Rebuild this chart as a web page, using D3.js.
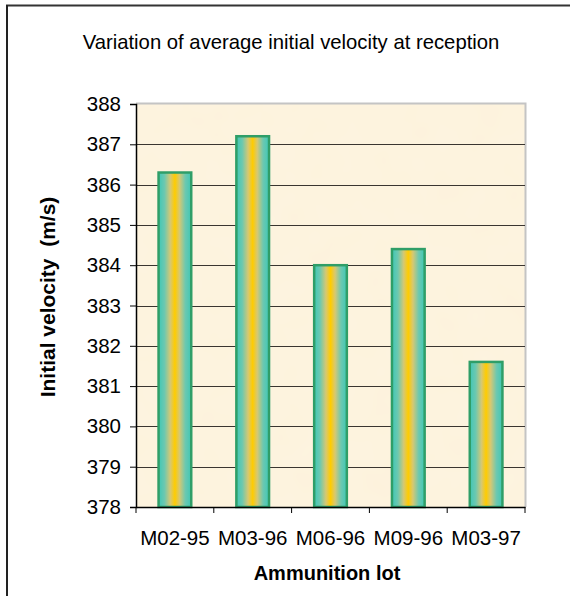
<!DOCTYPE html>
<html>
<head>
<meta charset="utf-8">
<script src="https://cdn.jsdelivr.net/npm/d3@7"></script>
<style>
  html, body { margin: 0; padding: 0; background: #fff; }
  svg { display: block; font-family: "Liberation Sans", Arial, sans-serif; }
</style>
</head>
<body>
<svg id="chart" width="570" height="596"></svg>
<script>
const categories = ["M02-95", "M03-96", "M06-96", "M09-96", "M03-97"];
const velocities = [386.3, 387.2, 384.0, 384.4, 381.6];
const yTicks = [378, 379, 380, 381, 382, 383, 384, 385, 386, 387, 388];
const titleText = "Variation of average initial velocity at reception";
const xLabel = "Ammunition lot";
const yLabel = "Initial velocity  (m/s)";

const svg = d3.select("#chart");
const plot = { left: 136, right: 525, top: 104, bottom: 507 };

const x = d3.scaleBand().domain(categories).range([plot.left, plot.right]).padding(0);
const y = d3.scaleLinear().domain([378, 388]).range([plot.bottom, plot.top]);

const defs = svg.append("defs");
const grad = defs.append("linearGradient").attr("id", "barGrad")
  .attr("x1", "0%").attr("x2", "100%").attr("y1", "0%").attr("y2", "0%");
[[0, "#3fc8b6"], [0.18, "#6cc8b0"], [0.36, "#d6c872"], [0.5, "#ffcc00"], [0.64, "#d6c872"], [0.82, "#6cc8b0"], [1, "#3fc8b6"]]
  .forEach(([o, c]) => grad.append("stop").attr("offset", o).attr("stop-color", c));

const filt = defs.append("filter").attr("id", "paper").attr("x", 0).attr("y", 0).attr("width", 1).attr("height", 1);
filt.append("feTurbulence").attr("type", "fractalNoise").attr("baseFrequency", 0.03).attr("numOctaves", 2).attr("seed", 3).attr("result", "noise");
filt.append("feColorMatrix").attr("in", "noise").attr("type", "matrix")
  .attr("values", "0 0 0 0 0.99  0 0 0 0 0.94  0 0 0 0 0.82  0 0 0 0.3 0").attr("result", "tint");
filt.append("feComposite").attr("in", "tint").attr("in2", "SourceGraphic").attr("operator", "over");

// outer frame (top and left visible)
svg.append("line").attr("x1", 6).attr("x2", 570).attr("y1", 5.5).attr("y2", 5.5).attr("stroke", "#333").attr("stroke-width", 2);
svg.append("line").attr("x1", 7).attr("x2", 7).attr("y1", 5).attr("y2", 596).attr("stroke", "#222").attr("stroke-width", 2);

// plot background
svg.append("rect").attr("x", plot.left).attr("y", plot.top)
  .attr("width", plot.right - plot.left).attr("height", plot.bottom - plot.top)
  .attr("fill", "#fdf2dc").attr("filter", "url(#paper)");

// grey border top/right
svg.append("path")
  .attr("d", `M${plot.left},${plot.top - 0.5}H${plot.right + 0.5}V${plot.bottom}`)
  .attr("fill", "none").attr("stroke", "#c4c4c4").attr("stroke-width", 2);

// gridlines
svg.append("g").selectAll("line").data(yTicks.slice(1, -1)).join("line")
  .attr("x1", plot.left).attr("x2", plot.right)
  .attr("y1", d => Math.round(y(d)) + 0.5).attr("y2", d => Math.round(y(d)) + 0.5)
  .attr("stroke", "#3a3530").attr("stroke-width", 1);

// bars
const barW = x.bandwidth() * 0.42;
svg.append("g").selectAll("rect").data(categories).join("rect")
  .attr("x", d => x(d) + (x.bandwidth() - barW) / 2)
  .attr("y", (d, i) => y(velocities[i]))
  .attr("width", barW)
  .attr("height", (d, i) => y(378) - y(velocities[i]))
  .attr("fill", "url(#barGrad)")
  .attr("stroke", "#2f9e68").attr("stroke-width", 2.5);

// y axis
const yAxis = svg.append("g").attr("transform", `translate(${plot.left},0)`)
  .call(d3.axisLeft(y).tickValues(yTicks).tickSize(6).tickPadding(9).tickFormat(d3.format("d")));
yAxis.select(".domain").attr("stroke", "#000").attr("stroke-width", 1.5);
yAxis.selectAll(".tick line").attr("stroke", "#000");
yAxis.selectAll("text").attr("font-size", 20.5).attr("fill", "#000")
  .attr("font-family", "'Liberation Sans', Arial, sans-serif");

// x axis labels
const xAxis = svg.append("g").attr("transform", `translate(0,${plot.bottom})`)
  .call(d3.axisBottom(x).tickSize(0).tickPadding(23));
xAxis.select(".domain").attr("stroke", "#000").attr("stroke-width", 1.5);
xAxis.selectAll("text").attr("font-size", 20.5).attr("fill", "#000")
  .attr("font-family", "'Liberation Sans', Arial, sans-serif");
// boundary ticks
const bounds = categories.map(c => x(c)).concat([x.range()[1]]);
svg.append("g").selectAll("line").data(bounds).join("line")
  .attr("x1", d => d).attr("x2", d => d)
  .attr("y1", plot.bottom).attr("y2", plot.bottom + 6)
  .attr("stroke", "#000").attr("stroke-width", 1);

// titles
svg.append("text").attr("x", 291).attr("y", 49).attr("text-anchor", "middle")
  .attr("font-size", 20.3).attr("fill", "#000").text(titleText);
svg.append("text").attr("x", 327).attr("y", 580).attr("text-anchor", "middle")
  .attr("font-size", 20).attr("font-weight", "bold").attr("fill", "#000").text(xLabel);
svg.append("text").attr("transform", `translate(55,297) rotate(-90)`)
  .attr("text-anchor", "middle").attr("font-size", 21).attr("font-weight", "bold")
  .attr("fill", "#000").style("white-space", "pre").text(yLabel);
</script>
</body>
</html>
